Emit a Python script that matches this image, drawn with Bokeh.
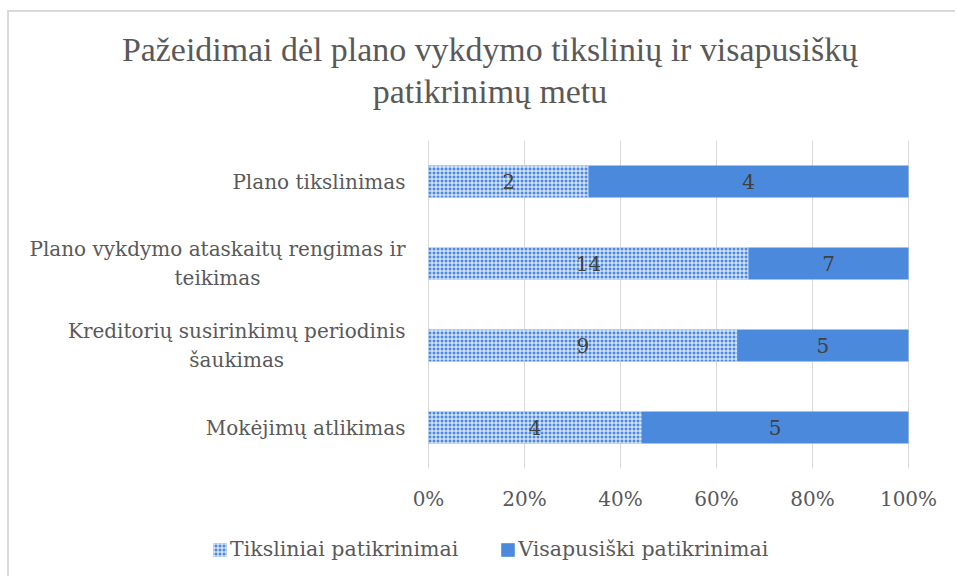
from bokeh.plotting import figure
from bokeh.layouts import column
from bokeh.models import (ColumnDataSource, FactorRange, Range1d, Legend, LegendItem,
                          NumeralTickFormatter, FixedTicker, Text)
from bokeh.core.properties import value
from bokeh.embed import file_html
from bokeh.resources import INLINE

# ---- data ----
title_lines = ["Pažeidimai dėl plano vykdymo tikslinių ir visapusiškų", "patikrinimų metu"]
categories = ["Plano tikslinimas",
              "Plano vykdymo ataskaitų rengimas ir\nteikimas",
              "Kreditorių susirinkimų periodinis\nšaukimas",
              "Mokėjimų atlikimas"]
tiksliniai = [2, 14, 9, 4]
visapusiski = [4, 7, 5, 5]
series_names = ["Tiksliniai patikrinimai", "Visapusiški patikrinimai"]
x_ticks = [0, 0.2, 0.4, 0.6, 0.8, 1.0]

# ---- layout constants (page px) ----
OX, OY = 9, 12                  # chart box offset on the page (border drawn just outside)
W = 957 - OX
TITLE_H = 140 - OY              # title band
MAIN_TOP, MAIN_BOT = 140, 520   # main figure band (frame 140..468)
FRAME_BOT = 468
LEG_H = 578 - MAIN_BOT
FL = 12                         # frame left inside main canvas
X0, X1 = 428 - OX, 908 - OX     # canvas x of 0% and 100%
PX = X1 - X0
LABEL_GAP = 23
TITLE_CX = 483.5                # page x of title centre (render-corrected)
TITLE_BASE = [49, 91]           # page y of title baselines (render-corrected)

BLUE = "#4a89dc"
GRID = "#d9d9d9"
TXT = "#595959"
SERIF = "DejaVu Serif"

totals = [a + b for a, b in zip(tiksliniai, visapusiski)]
share_t = [a / t for a, t in zip(tiksliniai, totals)]
src = ColumnDataSource(dict(
    cat=categories,
    t_left=[0.0] * len(categories),
    t_right=share_t,
    v_left=share_t,
    v_right=[1.0] * len(categories),
    t_mid=[s / 2 for s in share_t],
    v_mid=[s + (1 - s) / 2 for s in share_t],
    t_lbl=[str(v) for v in tiksliniai],
    v_lbl=[str(v) for v in visapusiski],
    lab_x=[-LABEL_GAP / PX] * len(categories),
))

def bare(fig):
    fig.outline_line_color = None
    fig.background_fill_color = "white"
    fig.border_fill_color = "white"
    return fig

HATCH = dict(fill_color=BLUE, line_color=None, hatch_pattern="cross",
             hatch_color="white", hatch_scale=4, hatch_weight=1)
SOLID = dict(fill_color=BLUE, line_color=None)

# ---------- title band ----------
pt = bare(figure(width=W, height=TITLE_H, x_range=Range1d(0, W), y_range=Range1d(0, TITLE_H),
                 x_axis_type=None, y_axis_type=None, output_backend="svg",
                 toolbar_location=None, min_border=0))
pt.grid.visible = False
title_src = ColumnDataSource(dict(
    x=[TITLE_CX - OX] * len(title_lines),
    y=[TITLE_H - (b - OY) for b in TITLE_BASE],
    text=title_lines))
pt.text(x="x", y="y", text="text", source=title_src, text_align="center",
        text_baseline="alphabetic", text_font=value("Liberation Serif"),
        text_font_size="33.9px", text_color=TXT)

# ---------- main chart ----------
p = bare(figure(width=W, height=MAIN_BOT - MAIN_TOP,
                y_range=FactorRange(factors=categories[::-1]),
                x_range=Range1d(-(X0 - FL) / PX, 1 + (W - X1) / PX),
                y_axis_type=None, output_backend="svg", toolbar_location=None,
                min_border_left=FL, min_border_right=0, min_border_top=0,
                min_border_bottom=MAIN_BOT - FRAME_BOT))

p.hbar(y="cat", left="t_left", right="t_right", height=0.39, source=src, **HATCH)
p.hbar(y="cat", left="v_left", right="v_right", height=0.39, source=src, **SOLID)

for xcol, tcol in (("t_mid", "t_lbl"), ("v_mid", "v_lbl")):
    p.text(x=xcol, y="cat", text=tcol, source=src, text_align="center",
           text_baseline="middle", text_font=value(SERIF), text_font_size="20px",
           text_color="#404040")

lab_kw = dict(x="lab_x", y="cat", text="cat", source=src, text_baseline="middle",
              text_font=value(SERIF), text_font_size="20px", text_color=TXT,
              text_line_height=1.2)
if "anchor" in Text.properties():
    lab_kw.update(text_align="center", anchor="center_right")
else:
    lab_kw.update(text_align="right")
p.text(**lab_kw)

p.ygrid.visible = False
p.xgrid.ticker = FixedTicker(ticks=x_ticks)
p.xgrid.grid_line_color = GRID
p.xgrid.grid_line_width = 1

xa = p.xaxis[0]
xa.ticker = FixedTicker(ticks=x_ticks)
xa.formatter = NumeralTickFormatter(format="0%")
xa.axis_line_color = None
xa.major_tick_line_color = None
xa.minor_tick_line_color = None
xa.major_tick_out = 0
xa.major_tick_in = 0
xa.major_label_standoff = 18
xa.major_label_text_font = SERIF
xa.major_label_text_font_size = "20px"
xa.major_label_text_color = TXT

# ---------- legend band ----------
pl = bare(figure(width=W, height=LEG_H, x_range=Range1d(2, 3),
                 y_range=FactorRange(factors=categories[::-1]),
                 x_axis_type=None, y_axis_type=None, output_backend="svg",
                 toolbar_location=None, min_border=0))
pl.grid.visible = False
lr1 = pl.hbar(y="cat", left="t_left", right="t_right", height=0, source=src, **HATCH)
lr2 = pl.hbar(y="cat", left="v_left", right="v_right", height=0, source=src, **SOLID)
GLYPH = 17
legend = Legend(items=[LegendItem(label=series_names[0], renderers=[lr1]),
                       LegendItem(label=series_names[1], renderers=[lr2])],
                orientation="horizontal",
                location=(215 - OX - 16, LEG_H - (549 - MAIN_BOT) - 12),
                glyph_width=GLYPH, glyph_height=GLYPH, label_standoff=2, spacing=41,
                padding=0, margin=0, border_line_color=None, background_fill_alpha=0,
                label_text_font=SERIF, label_text_font_size="20.5px",
                label_text_color=TXT, label_height=24)
pl.add_layout(legend)

layout = column(pt, p, pl, spacing=0, margin=(OY, 0, 0, OX),
                styles={"box-shadow": "-2px -2px 0 0 #d9d9d9"})

open("out.html", "w").write(file_html(layout, INLINE))
